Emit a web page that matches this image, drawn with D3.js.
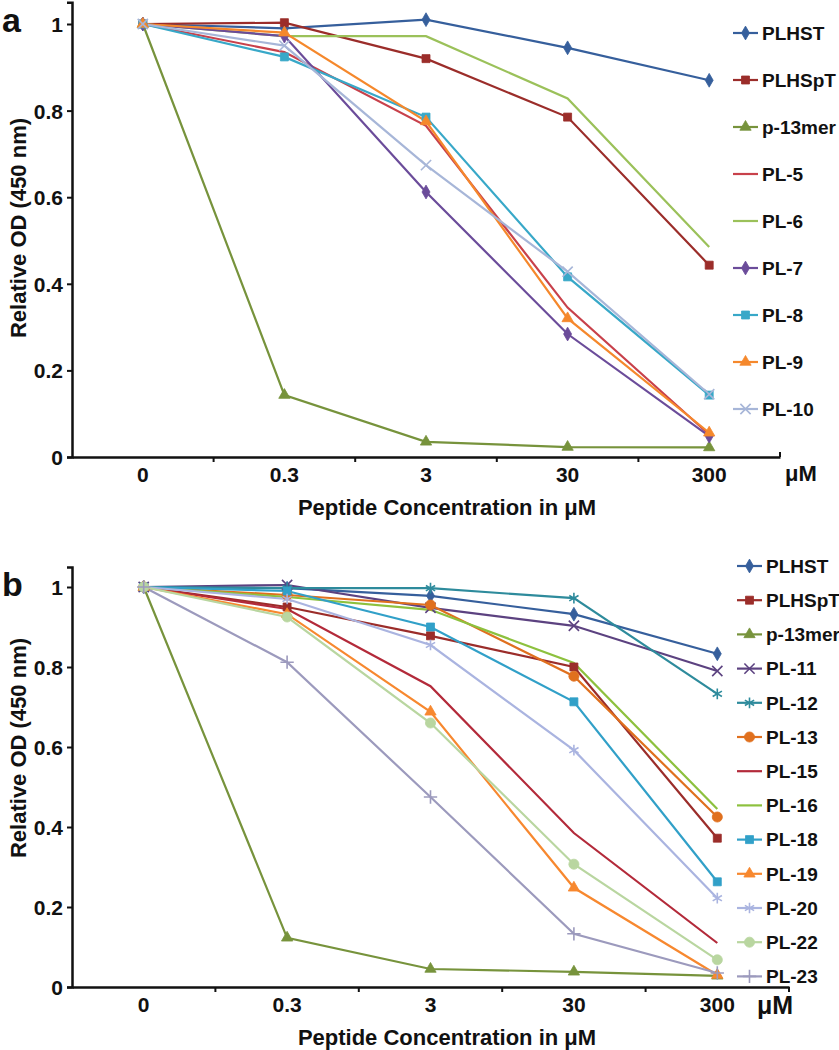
<!DOCTYPE html>
<html>
<head>
<meta charset="utf-8">
<script src="https://cdn.jsdelivr.net/npm/d3@7"></script>
<style>
  body { margin: 0; background: #fff; }
  svg text { font-family: "Liberation Sans", Arial, sans-serif; font-weight: bold; fill: #111; }
</style>
</head>
<body>
<svg id="chart" width="839" height="1050"></svg>
<script>

// x categories and y ticks (both panels)
var categories = ["0", "0.3", "3", "30", "300"];
var yTicks = [0, 0.2, 0.4, 0.6, 0.8, 1];

/////////// Panel a values ///////////
var plhstA   = [1, 0.99, 1.01, 0.945, 0.87];
var plhsptA  = [1, 1.003, 0.92, 0.785, 0.443];
var p13merA  = [1, 0.143, 0.035, 0.023, 0.022];
var pl5      = [1, 0.935, 0.765, 0.345, 0.052];
var pl6      = [1, 0.972, 0.972, 0.828, 0.485];
var pl7      = [1, 0.972, 0.612, 0.284, 0.048];
var pl8      = [1, 0.924, 0.785, 0.416, 0.143];
var pl9      = [1, 0.98, 0.775, 0.32, 0.056];
var pl10     = [1, 0.95, 0.674, 0.428, 0.145];

/////////// Panel b values ///////////
var plhstB   = [1, 0.997, 0.978, 0.932, 0.833];
var plhsptB  = [1, 0.95, 0.878, 0.8, 0.372];
var p13merB  = [1, 0.123, 0.045, 0.038, 0.028];
var pl11     = [1, 1.005, 0.948, 0.903, 0.79];
var pl12     = [1, 0.997, 0.997, 0.972, 0.733];
var pl13     = [1, 0.98, 0.955, 0.777, 0.425];
var pl15     = [1, 0.945, 0.752, 0.385, 0.11];
var pl16     = [1, 0.975, 0.943, 0.81, 0.445];
var pl18     = [1, 0.99, 0.9, 0.713, 0.263];
var pl19     = [1, 0.932, 0.688, 0.248, 0.03];
var pl20     = [1, 0.97, 0.855, 0.592, 0.222];
var pl22     = [1, 0.925, 0.66, 0.307, 0.068];
var pl23     = [1, 0.812, 0.475, 0.133, 0.035];

// series tables: name, values, colour, marker
var seriesA = [
  {name: "PLHST",   values: plhstA,  color: "#365f9c", marker: "diamond"},
  {name: "PLHSpT",  values: plhsptA, color: "#9b2d2a", marker: "square"},
  {name: "p-13mer", values: p13merA, color: "#77933c", marker: "triangle"},
  {name: "PL-5",    values: pl5,     color: "#c8414b", marker: null},
  {name: "PL-6",    values: pl6,     color: "#9bc15a", marker: null},
  {name: "PL-7",    values: pl7,     color: "#6b4c9a", marker: "diamond"},
  {name: "PL-8",    values: pl8,     color: "#38a8c8", marker: "square"},
  {name: "PL-9",    values: pl9,     color: "#f5882c", marker: "triangle"},
  {name: "PL-10",   values: pl10,    color: "#a7b6d8", marker: "x"}
];

var seriesB = [
  {name: "PLHST",   values: plhstB,  color: "#365f9c", marker: "diamond"},
  {name: "PLHSpT",  values: plhsptB, color: "#9b2d2a", marker: "square"},
  {name: "p-13mer", values: p13merB, color: "#77933c", marker: "triangle"},
  {name: "PL-11",   values: pl11,    color: "#5c4280", marker: "x"},
  {name: "PL-12",   values: pl12,    color: "#2e8b9c", marker: "asterisk"},
  {name: "PL-13",   values: pl13,    color: "#e0701e", marker: "circle"},
  {name: "PL-15",   values: pl15,    color: "#b32a3a", marker: null},
  {name: "PL-16",   values: pl16,    color: "#8dc13e", marker: null},
  {name: "PL-18",   values: pl18,    color: "#31a0c8", marker: "square"},
  {name: "PL-19",   values: pl19,    color: "#f7882f", marker: "triangle"},
  {name: "PL-20",   values: pl20,    color: "#aab4e0", marker: "asterisk"},
  {name: "PL-22",   values: pl22,    color: "#b9d6a0", marker: "circle"},
  {name: "PL-23",   values: pl23,    color: "#9c9abd", marker: "plus"}
];

var symbolTypes = {
  diamond:  {type: d3.symbolDiamond,  size: 55, stroke: false},
  square:   {type: d3.symbolSquare,   size: 64, stroke: false},
  triangle: {type: d3.symbolTriangle, size: 55, stroke: false},
  circle:   {type: d3.symbolCircle,   size: 80, stroke: false},
  x:        {type: d3.symbolX,        size: 70, stroke: true},
  asterisk: {type: d3.symbolAsterisk, size: 80, stroke: true},
  plus:     {type: d3.symbolPlus,     size: 60, stroke: true}
};

var svg = d3.select("#chart");

function drawMarker(g, s, x, y) {
  if (!s.marker) return;
  var m = symbolTypes[s.marker];
  g.append("path")
    .attr("d", d3.symbol().type(m.type).size(m.size)())
    .attr("transform", "translate(" + x + "," + y + ")")
    .attr("fill", m.stroke ? "none" : s.color)
    .attr("stroke", s.color)
    .attr("stroke-width", m.stroke ? 1.6 : 0.8);
}

function drawPanel(p) {
  var g = svg.append("g");

  var x = d3.scaleBand().domain(categories).range([p.left, p.right]);
  var y = d3.scaleLinear().domain([0, 1.05]).range([p.bottom, p.bottom - p.unit * 1.05]);

  // y axis
  var yAxis = g.append("g")
    .attr("transform", "translate(" + p.left + ",0)")
    .call(d3.axisLeft(y).tickValues(yTicks).tickSize(5).tickPadding(4)
      .tickFormat(function(d) { return d3.format("")(+d.toFixed(1)); }));
  yAxis.selectAll("text").style("font-size", "21px").attr("dy", "0.36em");

  // x axis, labels centred on bands, ticks on band edges
  var xAxis = g.append("g")
    .attr("transform", "translate(0," + p.bottom + ")")
    .call(d3.axisBottom(x).tickSize(0).tickPadding(p.xPad).tickSizeOuter(0));
  xAxis.selectAll("text").style("font-size", "21px");
  categories.forEach(function(c, i) {
    if (i == 0) return;
    g.append("line")
      .attr("x1", x(c)).attr("x2", x(c))
      .attr("y1", p.bottom).attr("y2", p.bottom + 5)
      .attr("stroke", "#111").attr("stroke-width", 2);
  });
  g.append("line")
    .attr("x1", p.right).attr("x2", p.right)
    .attr("y1", p.bottom).attr("y2", p.bottom + p.endTick)
    .attr("stroke", "#111").attr("stroke-width", 2);

  g.selectAll(".domain").attr("stroke", "#111").attr("stroke-width", 2.5);
  g.selectAll(".tick line").attr("stroke", "#111").attr("stroke-width", 2);

  // unit label at end of x axis
  g.append("text")
    .attr("x", p.unitX).attr("y", p.unitY)
    .style("font-size", p.unitSize + "px")
    .text("μM");

  // axis titles
  g.append("text")
    .attr("x", 447).attr("y", p.titleY)
    .attr("text-anchor", "middle")
    .style("font-size", "22px")
    .text("Peptide Concentration in μM");

  g.append("text")
    .attr("transform", "translate(26," + p.yTitleC + ") rotate(-90)")
    .attr("text-anchor", "middle")
    .style("font-size", "22px")
    .text("Relative OD (450 nm)");

  // panel letter
  g.append("text")
    .attr("x", 2).attr("y", p.letterY)
    .style("font-size", "34px")
    .text(p.letter);

  // lines and markers
  var line = d3.line()
    .x(function(d, i) { return x(categories[i]) + x.bandwidth() / 2; })
    .y(function(d) { return y(d); });

  p.series.forEach(function(s) {
    g.append("path")
      .datum(s.values)
      .attr("d", line)
      .attr("fill", "none")
      .attr("stroke", s.color)
      .attr("stroke-width", 2.2);
  });
  p.series.forEach(function(s) {
    s.values.forEach(function(v, i) {
      drawMarker(g, s, x(categories[i]) + x.bandwidth() / 2, y(v));
    });
  });

  // legend
  p.series.forEach(function(s, i) {
    var ly = p.legY + i * p.legStep;
    g.append("line")
      .attr("x1", p.legX).attr("x2", p.legX + 25)
      .attr("y1", ly).attr("y2", ly)
      .attr("stroke", s.color).attr("stroke-width", 2.2);
    drawMarker(g, s, p.legX + 12.5, ly);
    g.append("text")
      .attr("x", p.legX + 29).attr("y", ly)
      .attr("dy", "0.36em")
      .style("font-size", "19px")
      .text(s.name);
  });
}

drawPanel({
  letter: "a", letterY: 32,
  left: 72, right: 780, bottom: 457, unit: 433,
  xPad: 10, endTick: -5,
  unitX: 785, unitY: 481, unitSize: 22,
  titleY: 515, yTitleC: 228,
  series: seriesA, legX: 733, legY: 33, legStep: 47
});

drawPanel({
  letter: "b", letterY: 596,
  left: 72, right: 789, bottom: 987, unit: 400,
  xPad: 10, endTick: 5,
  unitX: 757, unitY: 1014, unitSize: 25,
  titleY: 1045, yTitleC: 748,
  series: seriesB, legX: 737, legY: 566, legStep: 34.2
});

</script>
</body>
</html>
